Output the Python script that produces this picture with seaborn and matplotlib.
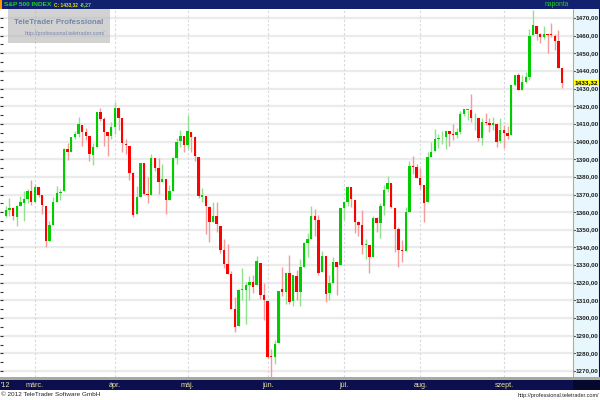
import matplotlib
matplotlib.use('Agg')
import matplotlib.pyplot as plt
import matplotlib.patches as mpatches
import pandas as pd
import seaborn as sns

# S&P 500 daily candles, Feb 17 - Sep 26 2012
days = ['02-17', '02-21', '02-22', '02-23', '02-24', '02-27', '02-28', '02-29',
        '03-01', '03-02', '03-05', '03-06', '03-07', '03-08', '03-09', '03-12', '03-13', '03-14', '03-15', '03-16',
        '03-19', '03-20', '03-21', '03-22', '03-23', '03-26', '03-27', '03-28', '03-29', '03-30',
        '04-02', '04-03', '04-04', '04-05', '04-09', '04-10', '04-11', '04-12', '04-13', '04-16',
        '04-17', '04-18', '04-19', '04-20', '04-23', '04-24', '04-25', '04-26', '04-27', '04-30',
        '05-01', '05-02', '05-03', '05-04', '05-07', '05-08', '05-09', '05-10', '05-11', '05-14',
        '05-15', '05-16', '05-17', '05-18', '05-21', '05-22', '05-23', '05-24', '05-25', '05-29', '05-30', '05-31',
        '06-01', '06-04', '06-05', '06-06', '06-07', '06-08', '06-11', '06-12', '06-13', '06-14',
        '06-15', '06-18', '06-19', '06-20', '06-21', '06-22', '06-25', '06-26', '06-27', '06-28', '06-29',
        '07-02', '07-03', '07-05', '07-06', '07-09', '07-10', '07-11', '07-12', '07-13', '07-16',
        '07-17', '07-18', '07-19', '07-20', '07-23', '07-24', '07-25', '07-26', '07-27', '07-30', '07-31',
        '08-01', '08-02', '08-03', '08-06', '08-07', '08-08', '08-09', '08-10', '08-13', '08-14', '08-15',
        '08-16', '08-17', '08-20', '08-21', '08-22', '08-23', '08-24', '08-27', '08-28', '08-29', '08-30', '08-31',
        '09-04', '09-05', '09-06', '09-07', '09-10', '09-11', '09-12', '09-13', '09-14', '09-17', '09-18',
        '09-19', '09-20', '09-21', '09-24', '09-25', '09-26']

opens = [1358.1, 1361.2, 1362.1, 1357.5, 1363.5, 1365.2, 1367.6, 1372.2,
         1365.9, 1374.1, 1369.6, 1363.6, 1343.4, 1352.7, 1365.9, 1370.8, 1371.9, 1395.9, 1394.2, 1402.6,
         1404.2, 1409.6, 1405.5, 1402.9, 1392.3, 1397.1, 1416.6, 1412.5, 1405.4, 1403.3,
         1408.5, 1418.9, 1413.1, 1398.8, 1397.5, 1382.2, 1359.0, 1368.8, 1387.6, 1370.3,
         1369.6, 1390.8, 1385.1, 1376.9, 1378.5, 1367.0, 1372.1, 1390.6, 1400.2, 1403.3,
         1397.9, 1405.5, 1402.3, 1391.5, 1368.8, 1369.2, 1363.2, 1354.6, 1358.1, 1351.9,
         1338.4, 1330.8, 1324.8, 1305.1, 1295.7, 1316.1, 1316.0, 1318.7, 1320.6, 1318.9, 1331.3, 1313.1,
         1309.9, 1278.3, 1277.8, 1285.6, 1316.2, 1315.0, 1325.7, 1309.4, 1324.0, 1314.9,
         1329.2, 1342.4, 1344.8, 1358.0, 1355.4, 1325.9, 1334.9, 1314.1, 1320.0, 1331.5, 1330.1,
         1362.3, 1365.8, 1374.0, 1367.1, 1354.7, 1353.0, 1341.4, 1341.3, 1334.8, 1356.5,
         1353.7, 1363.6, 1373.0, 1376.5, 1362.3, 1350.5, 1338.4, 1338.2, 1360.1, 1385.9, 1385.3,
         1379.3, 1375.1, 1365.5, 1391.0, 1394.5, 1401.2, 1402.3, 1402.6, 1405.9, 1404.4, 1403.9,
         1405.6, 1415.8, 1417.9, 1418.1, 1413.1, 1413.5, 1402.0, 1411.1, 1410.4, 1409.3, 1410.1, 1400.1,
         1406.5, 1404.9, 1403.7, 1432.1, 1437.9, 1429.1, 1433.6, 1436.6, 1460.1, 1465.4, 1461.2,
         1459.5, 1461.1, 1460.3, 1459.8, 1457.0, 1441.6]

highs = [1363.4, 1367.8, 1362.7, 1364.2, 1368.9, 1371.9, 1373.1, 1378.0,
         1376.2, 1374.5, 1369.6, 1363.6, 1354.9, 1368.7, 1374.8, 1373.0, 1396.1, 1399.4, 1402.6, 1405.9,
         1414.0, 1409.6, 1407.8, 1402.9, 1399.2, 1416.6, 1419.2, 1413.7, 1405.4, 1410.9,
         1422.4, 1419.1, 1413.1, 1401.6, 1397.5, 1383.0, 1374.7, 1388.1, 1387.6, 1379.7,
         1392.8, 1390.8, 1390.5, 1387.4, 1378.5, 1375.6, 1391.4, 1402.1, 1406.6, 1403.3,
         1415.3, 1405.5, 1403.1, 1391.5, 1373.9, 1369.2, 1363.7, 1365.9, 1365.7, 1351.9,
         1344.9, 1341.8, 1326.4, 1312.2, 1316.4, 1328.5, 1320.7, 1324.1, 1324.2, 1334.9, 1331.3, 1319.7,
         1309.9, 1282.6, 1287.6, 1315.1, 1329.1, 1325.8, 1335.5, 1324.3, 1327.3, 1333.7,
         1343.3, 1348.2, 1363.5, 1361.6, 1358.3, 1337.8, 1334.9, 1324.2, 1334.4, 1331.5, 1362.2,
         1366.4, 1374.8, 1373.9, 1367.1, 1354.9, 1361.5, 1345.0, 1341.3, 1357.7, 1357.3,
         1365.4, 1375.3, 1380.4, 1376.5, 1362.3, 1351.5, 1344.0, 1363.1, 1389.2, 1391.7, 1387.2,
         1385.0, 1375.1, 1394.2, 1399.6, 1407.1, 1404.1, 1406.0, 1406.0, 1405.9, 1410.0, 1407.7,
         1417.4, 1418.7, 1418.1, 1426.7, 1416.1, 1413.5, 1413.5, 1416.2, 1413.6, 1413.9, 1410.1, 1413.1,
         1409.3, 1408.8, 1432.1, 1437.9, 1438.7, 1437.8, 1439.2, 1463.8, 1474.5, 1465.6, 1461.5,
         1465.2, 1461.2, 1467.1, 1460.7, 1463.2, 1441.6]

lows = [1357.2, 1358.1, 1355.5, 1352.3, 1363.5, 1354.9, 1365.0, 1363.8,
        1365.9, 1368.5, 1359.1, 1340.0, 1343.4, 1352.7, 1365.9, 1366.7, 1371.9, 1389.7, 1394.2, 1401.5,
        1402.4, 1397.7, 1400.6, 1388.7, 1386.9, 1397.1, 1411.9, 1397.2, 1391.6, 1401.4,
        1404.5, 1406.3, 1394.1, 1392.9, 1378.2, 1357.4, 1359.0, 1368.8, 1369.9, 1365.4,
        1369.6, 1383.3, 1370.3, 1376.9, 1358.8, 1366.9, 1372.1, 1387.4, 1397.0, 1394.0,
        1395.7, 1393.9, 1388.7, 1368.0, 1365.9, 1347.8, 1343.1, 1354.6, 1348.9, 1336.6,
        1328.5, 1324.8, 1304.9, 1292.0, 1295.7, 1310.0, 1296.5, 1310.5, 1314.2, 1318.9, 1310.8, 1298.9,
        1277.3, 1266.7, 1274.2, 1285.6, 1312.7, 1307.8, 1307.7, 1306.6, 1310.5, 1306.9,
        1329.2, 1334.5, 1344.8, 1346.5, 1324.4, 1325.9, 1309.3, 1310.3, 1320.0, 1313.3, 1330.1,
        1355.7, 1363.5, 1363.0, 1348.0, 1346.7, 1336.3, 1333.3, 1325.4, 1334.8, 1348.5,
        1345.1, 1358.6, 1371.2, 1362.2, 1337.6, 1329.2, 1331.5, 1338.2, 1360.1, 1381.4, 1379.3,
        1373.1, 1354.7, 1365.5, 1391.0, 1394.5, 1396.6, 1398.8, 1395.6, 1397.3, 1400.6, 1401.8,
        1404.2, 1414.7, 1412.1, 1410.9, 1406.8, 1400.5, 1398.0, 1409.1, 1405.6, 1406.8, 1397.0, 1399.0,
        1396.6, 1401.3, 1403.7, 1431.5, 1429.0, 1429.1, 1433.0, 1435.0, 1460.1, 1457.6, 1456.1,
        1457.9, 1450.0, 1459.5, 1452.1, 1441.6, 1430.5]

closes = [1361.2, 1362.2, 1357.7, 1363.5, 1365.7, 1367.6, 1372.2, 1365.7,
          1374.1, 1369.6, 1364.3, 1343.4, 1352.6, 1365.9, 1370.9, 1371.1, 1396.0, 1394.3, 1402.6, 1404.2,
          1409.8, 1405.5, 1402.9, 1392.8, 1397.1, 1416.5, 1412.5, 1405.5, 1403.3, 1408.5,
          1419.0, 1413.4, 1399.0, 1398.1, 1382.2, 1358.6, 1368.7, 1387.6, 1370.3, 1369.6,
          1390.8, 1385.1, 1376.9, 1378.5, 1366.9, 1372.0, 1390.7, 1400.0, 1403.4, 1397.9,
          1405.8, 1402.3, 1391.6, 1369.1, 1369.6, 1363.7, 1354.6, 1358.0, 1353.4, 1338.4,
          1330.7, 1324.8, 1304.9, 1295.2, 1316.0, 1316.6, 1318.9, 1320.7, 1317.8, 1332.4, 1313.3, 1310.3,
          1278.0, 1278.2, 1285.5, 1315.1, 1315.0, 1325.7, 1308.9, 1324.2, 1314.9, 1329.1,
          1342.8, 1344.8, 1358.0, 1355.7, 1325.5, 1335.0, 1313.7, 1320.0, 1331.9, 1329.0, 1362.2,
          1365.5, 1374.0, 1367.6, 1354.7, 1352.5, 1341.5, 1341.5, 1334.8, 1356.8, 1353.6,
          1363.7, 1372.8, 1376.5, 1362.7, 1350.5, 1338.3, 1337.9, 1360.0, 1386.0, 1385.3, 1379.3,
          1375.3, 1365.0, 1391.0, 1394.2, 1401.4, 1402.2, 1402.8, 1405.9, 1404.1, 1403.9, 1405.5,
          1415.5, 1418.2, 1418.1, 1413.2, 1413.5, 1402.1, 1411.1, 1410.4, 1409.3, 1410.5, 1399.5, 1406.6,
          1404.9, 1403.4, 1432.1, 1437.9, 1429.1, 1433.6, 1436.6, 1460.0, 1465.8, 1461.2, 1459.3,
          1461.1, 1460.3, 1460.2, 1456.9, 1441.6, 1433.32]

month_starts = ['03-01', '04-02', '05-01', '06-01', '07-02', '08-01', '09-04']
month_labels = ['márc.', 'ápr.', 'máj.', 'jún.', 'júl.', 'aug.', 'szept.']
price_levels = [1270, 1280, 1290, 1300, 1310, 1320, 1330, 1340, 1350, 1360, 1370,
                1380, 1390, 1400, 1410, 1420, 1430, 1440, 1450, 1460, 1470]
last_close = 1433.32
change = -8.27

df = pd.DataFrame({'day': days, 'open': opens, 'high': highs, 'low': lows, 'close': closes})
df['x'] = range(len(df))
df['up'] = df['close'] >= df['open']
df['body_lo'] = df[['open', 'close']].min(axis=1)
df['body_h'] = (df['close'] - df['open']).abs().clip(lower=0.5)
month_x = [days.index(d) for d in month_starts]

sns.set_style('white')
plt.rcParams['font.family'] = ['Liberation Sans', 'DejaVu Sans']

W, H = 600, 400
fig = plt.figure(figsize=(6, 4), dpi=100)
fig.patch.set_facecolor('white')
renderer = fig.canvas.get_renderer()


def px_axes(x0, y0, x1, y1):
    # axes from pixel box (top-left origin)
    return fig.add_axes([x0 / W, 1 - y1 / H, (x1 - x0) / W, (y1 - y0) / H])


def fit(t, width_px):
    # shrink/grow a text so it spans width_px pixels
    w = t.get_window_extent(renderer=renderer).width
    t.set_fontsize(t.get_fontsize() * width_px / w)
    return t


def ftext(x, y, s, width_px, **kw):
    t = fig.text(x / W, 1 - y / H, s, **kw)
    return fit(t, width_px)


navy = '#0b0f4d'
ylo, yhi = 1266.6, 1475.1
xlo, xhi = -1.6, 156

# main price panel
ax = px_axes(0, 9, 573, 377)
ax.set_xlim(xlo, xhi)
ax.set_ylim(ylo, yhi)
for p in price_levels:
    ax.axhline(p, color='#ebebeb', lw=1.6, zorder=0)
for mx in month_x:
    ax.axvline(mx, color='#d6d6de', lw=0.8, ls=(0, (2, 2)), zorder=0)

up_c, dn_c = '#00cc00', '#ff0000'
wick_up, wick_dn = '#8fe38f', '#f59a9a'
ax.vlines(df['x'], df['low'], df['high'],
          colors=[wick_up if u else wick_dn for u in df['up']], lw=1, zorder=2)
ax.bar(df['x'], df['body_h'], bottom=df['body_lo'], width=0.66,
       color=[up_c if u else dn_c for u in df['up']], lw=0, zorder=3)
ax.set_xticks([])
ax.set_yticks([p for p in range(1270, 1475, 5)])
ax.set_yticklabels([])
ax.tick_params(axis='y', direction='in', length=2.5, width=0.8, color='#333333', left=True)
sns.despine(ax=ax, top=True, right=True, bottom=True, left=True)

# watermark
ax.add_patch(mpatches.Rectangle((8 / 573, 1 - 34 / 368), 102 / 573, 34 / 368, transform=ax.transAxes,
                                facecolor='#b4b4b4', alpha=0.6, lw=0, zorder=4))
ftext(14, 22, 'TeleTrader Professional', 89, ha='left', va='center',
      fontsize=8, fontweight='bold', color='#7585ad', zorder=5)
ftext(25, 34, 'http://professional.teletrader.com/', 78, ha='left', va='center',
      fontsize=4, color='#7585ad', zorder=5)

# right price scale
axr = px_axes(573, 9, 600, 377)
axr.set_facecolor('#e8f7fd')
axr.set_xlim(0, 27)
axr.set_ylim(ylo, yhi)
axr.set_xticks([])
axr.set_yticks([])
for s in ['top', 'bottom']:
    axr.spines[s].set_visible(False)
axr.spines['left'].set_color('#c8b03c')
axr.spines['left'].set_linestyle((0, (1, 1)))
axr.spines['right'].set_color(navy)
axr.spines['right'].set_linewidth(1.5)
for p in price_levels:
    axr.plot([0, 2], [p, p], color='#555555', lw=0.8)
    t = axr.text(2.5, p, f'{p},00', va='center', ha='left', fontsize=5, fontweight='bold', color='#222222')
    fit(t, 23)
t = axr.text(1.5, last_close, f'{last_close:.2f}'.replace('.', ','), va='center', ha='left',
             fontsize=5, fontweight='bold', color='black',
             bbox=dict(boxstyle='square,pad=0.1', fc='#ffff00', ec='none'))
fit(t, 23)

# header bar
axh = px_axes(0, 0, 600, 9)
axh.set_facecolor('#12216e')
axh.set_xticks([])
axh.set_yticks([])
for s in axh.spines.values():
    s.set_visible(False)
axh.add_patch(mpatches.Rectangle((0, 0), 2 / W, 1, transform=axh.transAxes, fc='#ff9900', lw=0))
ftext(4, 4.8, 'S&P 500 INDEX', 48, fontsize=6, fontweight='bold', color='#22d022', va='center')
ftext(54, 4.8, f'C: {last_close:.2f}'.replace('.', ','), 24, fontsize=6,
      fontweight='bold', color='#e8e800', va='center')
ftext(80, 4.8, f'{change:.2f}'.replace('.', ','), 12, fontsize=6,
      fontweight='bold', color='#7bd84a', va='center')
ftext(545, 4.8, 'naponta', 25, fontsize=5, color='#22cc22', ha='left', va='center')

# bottom date bar
axg = px_axes(0, 377, 600, 380)
axg.set_facecolor('#a9a9a0')
axb = px_axes(0, 380, 600, 390)
axb.set_facecolor(navy)
for a in (axg, axb):
    a.set_xticks([])
    a.set_yticks([])
    for s in a.spines.values():
        s.set_visible(False)
axb.set_xlim(xlo, xlo + (xhi - xlo) * 600 / 573)
axb.set_ylim(0, 1)
axb.text(-1.4, 0.45, "'12", fontsize=5.2, color='#e8e0a0', va='center', ha='left')
for mx, lab in zip(month_x, month_labels):
    axb.text(mx, 0.45, lab, fontsize=5.2, color='#e8e0a0', va='center', ha='center')
axb.add_patch(mpatches.Rectangle((573 / 600, 0), 27 / 600, 1, transform=axb.transAxes, fc='#06082e', lw=0))

# footer
ftext(1, 395, '© 2012 TeleTrader Software GmbH', 101, fontsize=5, color='#222222', va='center')
ftext(599, 395, 'http://professional.teletrader.com/', 82, fontsize=4.5, color='#222222',
      va='center', ha='right')

fig.savefig('out.png', dpi=100, facecolor='white')
